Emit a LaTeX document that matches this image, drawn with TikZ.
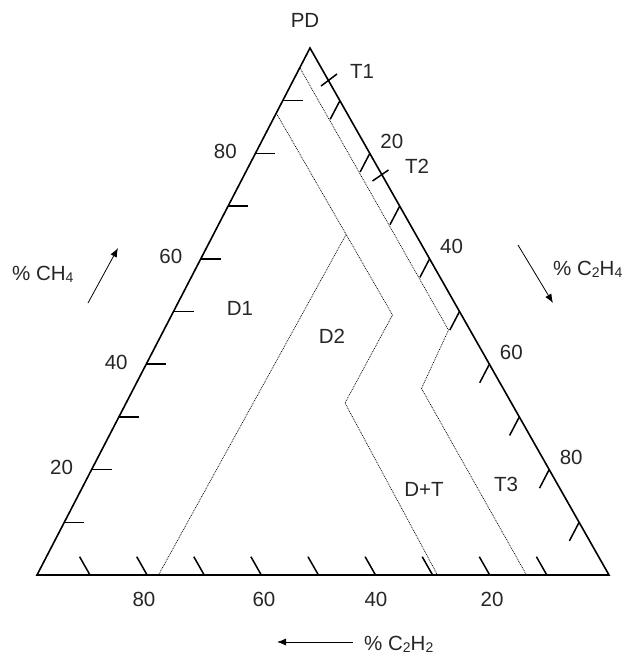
\documentclass[tikz,border=0pt]{standalone}
\usepackage{fontspec}
\setmainfont{Liberation Sans}
\usetikzlibrary{calc,arrows.meta}
\newcommand\sbs[1]{\raisebox{-0.25ex}{\fontsize{14}{14}\selectfont #1}}
\begin{document}
\begin{tikzpicture}[x=1pt,y=-1pt,
  edge/.style={line width=1.6pt, line join=miter},
  axtick/.style={line width=1.5pt},
  zone/.style={line width=0.7pt, dash pattern=on 0.9pt off 0.9pt},
  lbl/.style={font=\fontsize{20.5}{20.5}\selectfont, inner sep=0pt, text=black!85},
  axarrow/.style={line width=0.8pt, -{Latex[length=9pt,width=7pt]}}]
\useasboundingbox (0,0) rectangle (629,657);
% triangle
\coordinate (T) at (310,48);
\coordinate (R) at (609,575);
\coordinate (L) at (37,575);
\draw[edge] (L) -- (T) -- (R) -- cycle;
% ticks
\foreach \k in {1,...,9} {
  \draw[axtick] ($(L)!\k/10!(T)$) -- ++(20,0);
  \draw[axtick] ($(T)!\k/10!(R)$) -- ++(-9.7,18.6);
  \draw[axtick] ({90+57.1*(\k-1)},575) -- ++(-10.4,-18.3);
}
% leader lines for T1 and T2
\coordinate (t1a) at (321,86);
\coordinate (t1b) at (337,74);
\coordinate (t2a) at (372.5,181);
\coordinate (t2b) at (388.5,170);
\draw[axtick] (t1a) -- (t1b);
\draw[axtick] (t2a) -- (t2b);
% zone boundaries
\coordinate (a1) at (300,68);
\coordinate (a2) at (448.5,330);
\coordinate (a3) at (421.5,388.5);
\coordinate (a4) at (526.5,575);
\coordinate (b1) at (276.5,113.5);
\coordinate (b2) at (392.5,315);
\coordinate (b3) at (345,403);
\coordinate (b4) at (437.5,575);
\coordinate (c1) at ($(b1)!0.6!(b2)$);
\coordinate (c2) at (158.5,575);
\draw[zone] (a1) -- (a2) -- (a3) -- (a4);
\draw[zone] (b1) -- (b2) -- (b3) -- (b4);
\draw[zone] (c1) -- (c2);
% axis labels left
\foreach \k/\v in {2/20,4/40,6/60,8/80}
  \path ($(L)!\k/10!(T)$) ++(-30,-2) node[lbl] (l\v) {\v};
% axis labels right
\foreach \k/\v in {2/20,4/40,6/60,8/80}
  \path ($(T)!\k/10!(R)$) ++(22,-12) node[lbl] (r\v) {\v};
% axis labels bottom
\node[lbl] (b80) at (144,599) {80};
\node[lbl] (b60) at (264,599) {60};
\node[lbl] (b40) at (376,599) {40};
\node[lbl] (b20) at (492,599) {20};
% zone labels
\node[lbl] (pd) at (305,20) {PD};
\node[lbl] (zt1) at (362,71) {T1};
\node[lbl] (zt2) at (417,166) {T2};
\node[lbl] (zd1) at (240,308) {D1};
\node[lbl] (zd2) at (332,336) {D2};
\node[lbl] (zdt) at (424,489) {D+T};
\node[lbl] (zt3) at (506,484) {T3};
% gas labels and arrows
\node[lbl, anchor=base west] (gch4) at (12,280) {\% CH\sbs{4}};
\node[lbl, anchor=base west] (gc2h4) at (553,275) {\% C\sbs{2}H\sbs{4}};
\node[lbl, anchor=base west] (gc2h2) at (364,650) {\% C\sbs{2}H\sbs{2}};
\coordinate (ch4a) at (88,303);
\coordinate (ch4b) at (118,248);
\coordinate (c2h4a) at (518,245);
\coordinate (c2h4b) at (553,303);
\coordinate (c2h2a) at (353,642);
\coordinate (c2h2b) at (277,642);
\draw[axarrow] (ch4a) -- (ch4b);
\draw[axarrow] (c2h4a) -- (c2h4b);
\draw[axarrow] (c2h2a) -- (c2h2b);
\end{tikzpicture}
\end{document}
